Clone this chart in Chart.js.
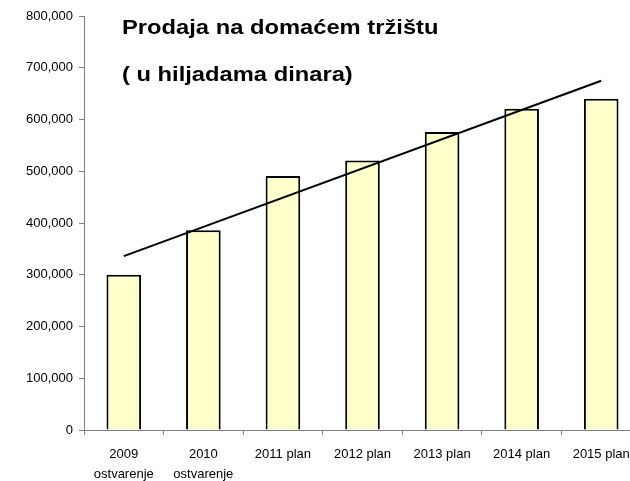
<!DOCTYPE html>
<html>
<head>
<meta charset="utf-8">
<script src="https://cdn.jsdelivr.net/npm/chart.js@4/dist/chart.umd.min.js"></script>
<style>
  html, body {
    margin: 0;
    padding: 0;
    background: #ffffff;
    overflow: hidden;
  }
  #wrap {
    position: relative;
    width: 660px;
    height: 481px;
  }
</style>
</head>
<body>
<div id="wrap"><canvas id="salesChart"></canvas></div>
<script>
// ======================================================
// DATA
// ======================================================

const categories = [
  ["2009", "ostvarenje"],
  ["2010", "ostvarenje"],
  "2011 plan",
  "2012 plan",
  "2013 plan",
  "2014 plan",
  "2015 plan",
];

// Prodaja (u hiljadama dinara)
const salesValues = [300000, 386000, 491000, 521000, 576000, 621000, 640000];

// Linija trenda: samo pocetna i krajnja tacka, ocitane sa slike
const trendValues = [336000, null, null, null, null, null, 675000];

const titleLines = ["Prodaja na domaćem tržištu", "( u hiljadama dinara)"];

// ======================================================
// TITLE PLUGIN (tekst unutar oblasti grafikona)
// ======================================================

const titleInside = {
  id: "titleInside",
  afterDraw(chart) {
    const ctx = chart.ctx;
    ctx.save();
    ctx.fillStyle = "#000000";
    ctx.font = "bold 21px 'Liberation Sans', Arial, sans-serif";
    ctx.textBaseline = "alphabetic";
    const baselines = [34, 81];
    titleLines.forEach((line, i) => {
      ctx.save();
      ctx.translate(122, baselines[i]);
      ctx.scale(1.13, 1);
      ctx.fillText(line, 0, 0);
      ctx.restore();
    });
    ctx.restore();
  },
};

// ======================================================
// CHART
// ======================================================

Chart.defaults.font.family = "'Liberation Sans', Arial, sans-serif";
Chart.defaults.color = "#000000";

const ctx = document.getElementById("salesChart").getContext("2d");

const salesChart = new Chart(ctx, {
  type: "bar",
  data: {
    labels: categories,
    datasets: [
      {
        type: "line",
        label: "Trend",
        data: trendValues,
        borderColor: "#000000",
        borderWidth: 2,
        pointRadius: 0,
        spanGaps: true,
        tension: 0,
        order: 0,
      },
      {
        label: "Prodaja",
        data: salesValues,
        backgroundColor: "#FFFFCC",
        borderColor: "#000000",
        borderWidth: 2,
        categoryPercentage: 1,
        barPercentage: 0.435,
        order: 1,
      },
    ],
  },
  options: {
    responsive: true,
    maintainAspectRatio: false,
    animation: false,
    layout: {
      padding: { top: 16, right: 19, left: 0, bottom: 0 },
    },
    plugins: {
      legend: { display: false },
      tooltip: { enabled: false },
      title: { display: false },
    },
    scales: {
      x: {
        grid: {
          display: true,
          drawOnChartArea: false,
          offset: true,
          tickLength: 5,
          color: "#808080",
        },
        border: { display: true, color: "#808080", width: 1 },
        ticks: {
          font: { size: 13, lineHeight: 1.55 },
          padding: 9,
          maxRotation: 0,
          autoSkip: false,
        },
        afterFit(scale) {
          scale.height = 51;
        },
      },
      y: {
        min: 0,
        max: 800000,
        grid: {
          display: true,
          drawOnChartArea: false,
          tickLength: 5,
          color: "#808080",
        },
        border: { display: true, color: "#808080", width: 1 },
        ticks: {
          stepSize: 100000,
          font: { size: 13 },
          padding: 6,
          callback: (value) => value.toLocaleString("en-US"),
        },
        afterFit(scale) {
          scale.width = 84;
        },
      },
    },
  },
  plugins: [titleInside],
});
</script>
</body>
</html>
